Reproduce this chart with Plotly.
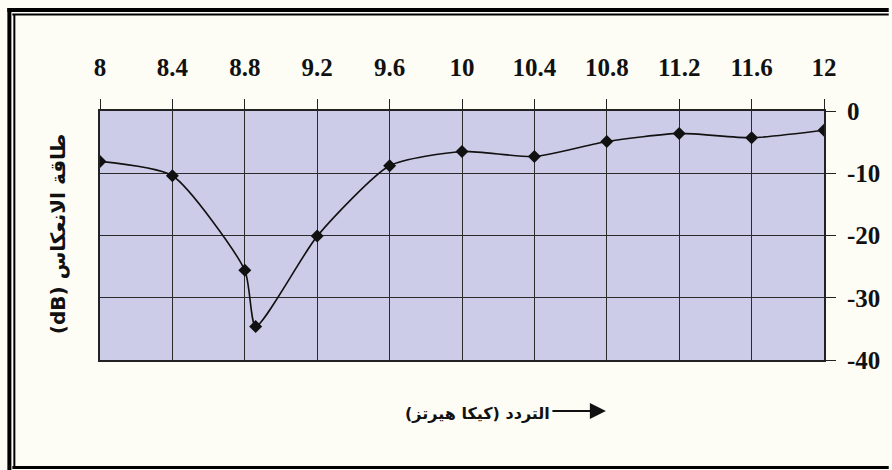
import plotly.graph_objects as go

# Frequency (GHz) and return loss (dB)
freq_ghz = [8.0, 8.4, 8.8, 8.86, 9.2, 9.6, 10.0, 10.4, 10.8, 11.2, 11.6, 12.0]
return_loss_db = [-8.1, -10.4, -25.6, -34.6, -20.1, -8.8, -6.5, -7.3, -4.9, -3.6, -4.3, -3.1]

x_ticks = [8, 8.4, 8.8, 9.2, 9.6, 10, 10.4, 10.8, 11.2, 11.6, 12]
x_tick_text = ["8", "8.4", "8.8", "9.2", "9.6", "10", "10.4", "10.8", "11.2", "11.6", "12"]
y_ticks = [0, -10, -20, -30, -40]
y_tick_text = ["0", "-10", "-20", "-30", "-40"]

# Latin part first so that "(dB)" sits at the lower end of the rotated title
y_title = "(dB) طاقة الانعكاس"
x_title = "التردد (كيكا هيرتز)"

W, H = 892, 470
L, R, T, B = 100, 827, 111, 360  # plot area in pixels


def px(x):
    return (x - L) / (R - L)


def py(y):
    return (B - y) / (B - T)


fig = go.Figure()
fig.add_trace(go.Scatter(
    x=freq_ghz, y=return_loss_db,
    mode="lines+markers",
    line=dict(color="#111111", width=1.6, shape="spline", smoothing=0.6),
    marker=dict(symbol="diamond", size=10, color="#111111"),
    showlegend=False,
    hoverinfo="skip",
))

tick_font = dict(family="Liberation Serif", size=25, color="#111111", weight="bold")

fig.update_layout(
    width=W, height=H,
    margin=dict(l=L, r=W - R, t=T, b=H - B, pad=0),
    paper_bgcolor="#fdfdf6",
    plot_bgcolor="#cdcce8",
    xaxis=dict(
        range=[8, 12], side="top", tickvals=x_ticks, ticktext=x_tick_text,
        tickfont=tick_font, ticks="outside", ticklen=10, tickcolor="#222222",
        ticklabelstandoff=13,
        showgrid=True, gridcolor="#2a2a2a", gridwidth=1,
        showline=True, mirror=True, linecolor="#222222", linewidth=2,
        zeroline=False, fixedrange=True,
    ),
    yaxis=dict(
        range=[-40, 0], side="right", tickvals=y_ticks, ticktext=y_tick_text,
        tickfont=tick_font, ticks="outside", ticklen=10, tickcolor="#222222",
        ticklabelstandoff=6,
        showgrid=True, gridcolor="#2a2a2a", gridwidth=1,
        showline=True, mirror=True, linecolor="#222222", linewidth=2,
        zeroline=False, fixedrange=True,
    ),
)

# vertical axis title on the left
fig.add_annotation(
    xref="paper", yref="paper", x=px(58), y=py(234),
    text=y_title, textangle=-90, showarrow=False,
    font=dict(family="DejaVu Sans", size=20, color="#111111", weight="bold"),
    xanchor="center", yanchor="middle",
)

# horizontal axis title below the plot, with an arrow pointing to higher frequency
fig.add_annotation(
    xref="paper", yref="paper", x=px(479), y=py(413),
    text=x_title, showarrow=False,
    font=dict(family="DejaVu Sans", size=16, color="#111111", weight="bold"),
    xanchor="center", yanchor="middle",
)
fig.add_annotation(
    xref="paper", yref="paper", x=px(608), y=py(411),
    ax=-55, ay=0, text="", showarrow=True,
    arrowhead=2, arrowsize=1.6, arrowwidth=2, arrowcolor="#111111",
)

# double page frame
frame = [
    (9, 8, 9, 470, 4),
    (7, 10, 892, 10, 4),
    (14, 14, 14, 468, 2),
    (12, 14.5, 892, 14.5, 2),
    (12, 467.5, 892, 467.5, 3),
]
for x0, y0, x1, y1, w in frame:
    fig.add_shape(
        type="line", xref="paper", yref="paper",
        x0=px(x0), y0=py(y0), x1=px(x1), y1=py(y1),
        line=dict(color="#000000", width=w), layer="above",
    )

fig.write_html("out.html")
